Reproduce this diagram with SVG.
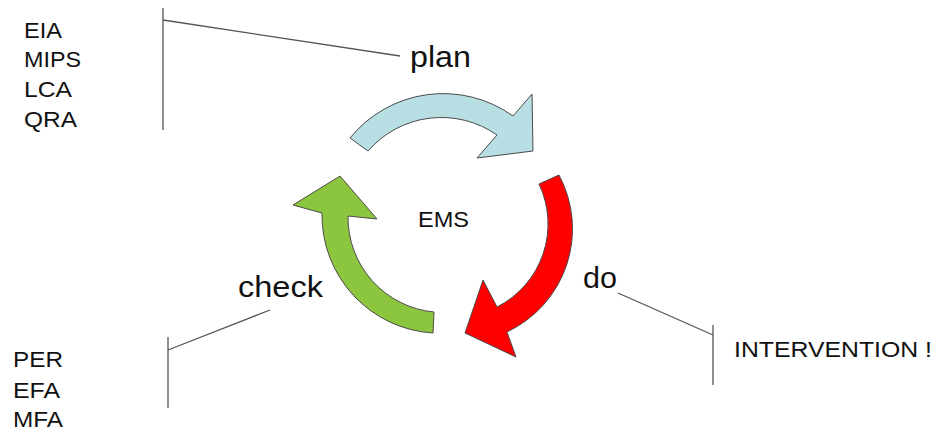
<svg xmlns="http://www.w3.org/2000/svg" width="935" height="432" viewBox="0 0 935 432">
  <style>
    .lbl { font-family: "Liberation Sans", Arial, sans-serif; fill: #111; }
    .big { font-size: 29px; }
    .small { font-size: 22px; }
    .lead { fill: none; stroke: #555; stroke-width: 1.3; }
    .arrow { stroke: #4a4a4a; stroke-width: 1; stroke-linejoin: miter; }
  </style>

  <rect width="935" height="432" fill="#ffffff"/>

  <!-- leader lines from the phase labels to their brackets -->
  <g id="connectors">
    <path class="lead" d="M163,8 V130 M163,20 L400,56"/>
    <path class="lead" d="M168,337 V408 M168,350 L270,310"/>
    <path class="lead" d="M618,293 L713,335 M713,325 V385"/>
  </g>

  <!-- plan arrow -->
  <g id="plan">
    <path class="arrow" fill="#b8dfe3" d="M350,138 A120,120 0 0 1 513,116 L532,94 L533,151 L477,158 L497,135 A97,97 0 0 0 368,151 Z"/>
    <text class="lbl big" x="410" y="67" textLength="61" lengthAdjust="spacingAndGlyphs">plan</text>
  </g>

  <!-- do arrow -->
  <g id="do">
    <path class="arrow" fill="#ff0000" d="M559,175 A114,114 0 0 1 507,332 L516,357 L465,333 L483,280 L497,307 A93,93 0 0 0 539,184 Z"/>
    <text class="lbl big" x="583" y="288" textLength="34" lengthAdjust="spacingAndGlyphs">do</text>
  </g>

  <!-- check arrow -->
  <g id="check">
    <path class="arrow" fill="#8cc63e" d="M433,333 A118,118 0 0 1 322,213 L293,205 L340,176 L377,219 L348,216 A95,95 0 0 0 434,312 Z"/>
    <text class="lbl big" x="238" y="297" textLength="85" lengthAdjust="spacingAndGlyphs">check</text>
  </g>

  <!-- centre label -->
  <g id="ems">
    <text class="lbl small" x="418" y="227" textLength="51" lengthAdjust="spacingAndGlyphs">EMS</text>
  </g>

  <!-- planning tools -->
  <g id="plan-tools">
    <text class="lbl small" x="24" y="38" textLength="38" lengthAdjust="spacingAndGlyphs">EIA</text>
    <text class="lbl small" x="24" y="67" textLength="57" lengthAdjust="spacingAndGlyphs">MIPS</text>
    <text class="lbl small" x="24" y="97" textLength="48" lengthAdjust="spacingAndGlyphs">LCA</text>
    <text class="lbl small" x="24" y="127" textLength="53" lengthAdjust="spacingAndGlyphs">QRA</text>
  </g>

  <!-- checking tools -->
  <g id="check-tools">
    <text class="lbl small" x="13" y="367" textLength="50" lengthAdjust="spacingAndGlyphs">PER</text>
    <text class="lbl small" x="13" y="398" textLength="47" lengthAdjust="spacingAndGlyphs">EFA</text>
    <text class="lbl small" x="13" y="427" textLength="50" lengthAdjust="spacingAndGlyphs">MFA</text>
  </g>

  <!-- action -->
  <g id="do-action">
    <text class="lbl small" x="734" y="357" textLength="198" lengthAdjust="spacingAndGlyphs">INTERVENTION !</text>
  </g>
</svg>
